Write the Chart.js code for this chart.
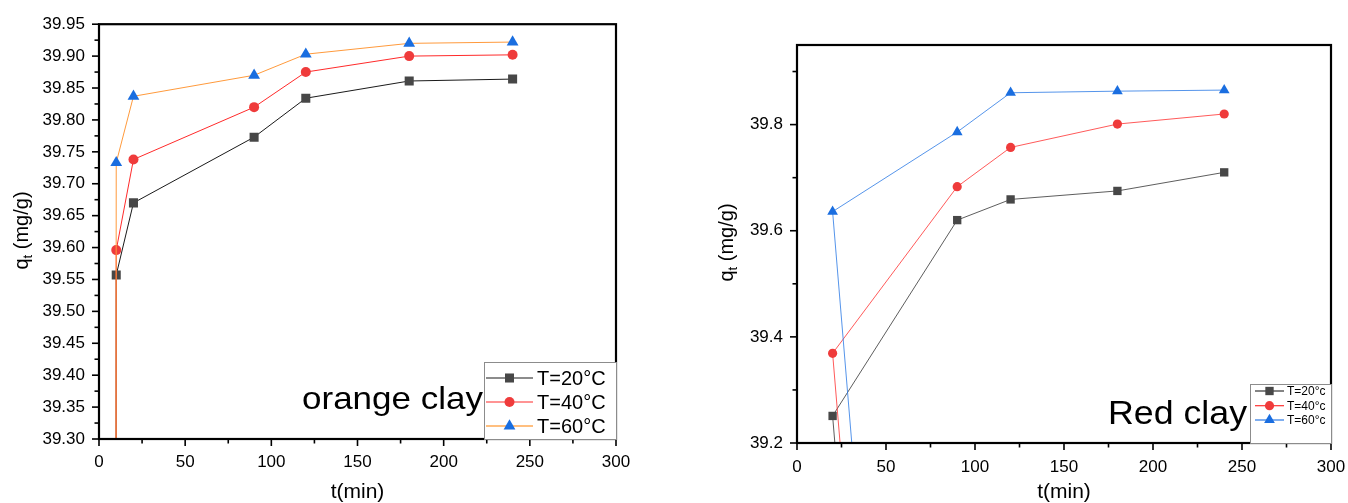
<!DOCTYPE html>
<html>
<head>
<meta charset="utf-8">
<script src="https://cdn.jsdelivr.net/npm/chart.js@4.4.1/dist/chart.umd.min.js"></script>
<style>
  body { margin: 0; background: #fff; width: 1348px; height: 503px; overflow: hidden; position: relative; }
  .panel { position: absolute; top: 0; }
  #orangePanel { left: 0; }
  #redPanel { left: 680px; }
</style>
</head>
<body>
<div class="panel" id="orangePanel"><canvas id="orangeChart" width="640" height="503"></canvas></div>
<div class="panel" id="redPanel"><canvas id="redChart" width="668" height="503"></canvas></div>
<script>
// Orange clay: contact time (min) vs q_t (mg/g)
const orangeTime = [0, 10, 20, 90, 120, 180, 240];
const orangeT20 = [0, 39.557, 39.670, 39.773, 39.834, 39.861, 39.864];
const orangeT40 = [0, 39.596, 39.738, 39.820, 39.875, 39.900, 39.902];
const orangeT60 = [0, 39.733, 39.837, 39.870, 39.903, 39.920, 39.922];

// Red clay: first row sits far outside the plotted window
const redTime = [1000, 20, 90, 120, 180, 240];
const redT20 = [0, 39.251, 39.620, 39.659, 39.675, 39.710];
const redT40 = [0, 39.369, 39.683, 39.757, 39.801, 39.820];
const redT60 = [0, 39.636, 39.786, 39.860, 39.863, 39.865];

const orangeLegend = ["T=20°C", "T=40°C", "T=60°C"];
const redLegend = ["T=20°c", "T=40°c", "T=60°c"];

// axis ticks (labelled ones; minor ticks fall halfway between)
const timeLabels = [0, 50, 100, 150, 200, 250, 300];
const orangeQLabels = [39.30, 39.35, 39.40, 39.45, 39.50, 39.55, 39.60, 39.65,
                       39.70, 39.75, 39.80, 39.85, 39.90, 39.95];
const redQLabels = [39.2, 39.4, 39.6, 39.8];
const redQMinor = [39.3, 39.5, 39.7, 39.9];

const FONT = "'Liberation Sans', Arial, Helvetica, sans-serif";

function withMidpoints(labels) {
  const out = [];
  labels.forEach((v, i) => {
    out.push(v);
    if (i < labels.length - 1) out.push((v + labels[i + 1]) / 2);
  });
  return out;
}

function isIn(list, v) {
  return list.some((l) => Math.abs(l - v) < 1e-6);
}

function points(times, values) {
  return times.map((t, i) => ({ x: t, y: values[i] }));
}

function markerPath(ctx, style, r, x, y) {
  ctx.beginPath();
  if (style === "rect") {
    const s = Math.SQRT1_2 * r;
    ctx.rect(x - s, y - s, 2 * s, 2 * s);
  } else if (style === "triangle") {
    for (let k = 0; k < 3; k++) {
      const a = (k * 2 * Math.PI) / 3;
      const px = x + Math.sin(a) * r;
      const py = y - Math.cos(a) * r;
      k === 0 ? ctx.moveTo(px, py) : ctx.lineTo(px, py);
    }
    ctx.closePath();
  } else {
    ctx.arc(x, y, r, 0, Math.PI * 2);
  }
}

// frame, tick marks, rotated y title, sample name and legend
const panelDecor = {
  id: "panelDecor",
  afterDatasetsDraw(chart, args, opts) {
    const { ctx, chartArea: a } = chart;
    const x = chart.scales.x;
    const y = chart.scales.y;
    ctx.save();

    ctx.strokeStyle = "#000";
    ctx.lineWidth = 1.6;
    x.ticks.forEach((t) => {
      const px = x.getPixelForValue(t.value);
      const len = isIn(timeLabels, t.value) ? 7 : 4.5;
      ctx.beginPath();
      ctx.moveTo(px, a.bottom);
      ctx.lineTo(px, a.bottom + len);
      ctx.stroke();
    });
    y.ticks.forEach((t) => {
      const py = y.getPixelForValue(t.value);
      const len = isIn(opts.yLabels, t.value) ? 7 : 4.5;
      ctx.beginPath();
      ctx.moveTo(a.left, py);
      ctx.lineTo(a.left - len, py);
      ctx.stroke();
    });

    ctx.lineWidth = 2.2;
    ctx.strokeRect(a.left, a.top, a.right - a.left, a.bottom - a.top);

    // q_t (mg/g)
    ctx.fillStyle = "#000";
    ctx.textBaseline = "alphabetic";
    ctx.textAlign = "left";
    const big = "20px " + FONT;
    const small = "13px " + FONT;
    ctx.font = big;
    const wq = ctx.measureText("q").width;
    const wRest = ctx.measureText(" (mg/g)").width;
    ctx.font = small;
    const wt = ctx.measureText("t").width;
    const total = wq + wt + wRest;
    ctx.translate(opts.yTitle[0], opts.yTitle[1]);
    ctx.rotate(-Math.PI / 2);
    let cx = -total / 2;
    ctx.font = big;
    ctx.fillText("q", cx, 0);
    cx += wq;
    ctx.font = small;
    ctx.fillText("t", cx, 4);
    cx += wt;
    ctx.font = big;
    ctx.fillText(" (mg/g)", cx, 0);
    ctx.setTransform(1, 0, 0, 1, 0, 0);

    // sample name, stretched a little to its printed width
    ctx.font = opts.nameFont;
    const nw = ctx.measureText(opts.name).width;
    ctx.translate(opts.namePos[0], opts.namePos[1]);
    ctx.scale(opts.nameWidth / nw, 1);
    ctx.fillText(opts.name, 0, 0);
    ctx.setTransform(1, 0, 0, 1, 0, 0);

    // legend box
    const lg = opts.legend;
    ctx.fillStyle = "#fff";
    ctx.fillRect(lg.box[0], lg.box[1], lg.box[2], lg.box[3]);
    ctx.strokeStyle = "#8c8c8c";
    ctx.lineWidth = 1;
    ctx.strokeRect(lg.box[0] + 0.5, lg.box[1] + 0.5, lg.box[2], lg.box[3]);
    ctx.font = lg.font;
    ctx.textBaseline = "middle";
    chart.data.datasets.forEach((ds, i) => {
      const ry = lg.rows[i];
      ctx.strokeStyle = ds.legendLine || ds.borderColor;
      ctx.lineWidth = 1.2;
      ctx.beginPath();
      ctx.moveTo(lg.line[0], ry);
      ctx.lineTo(lg.line[1], ry);
      ctx.stroke();
      ctx.fillStyle = ds.pointBackgroundColor;
      markerPath(ctx, ds.pointStyle, ds.pointRadius, (lg.line[0] + lg.line[1]) / 2, ry);
      ctx.fill();
      ctx.fillStyle = "#000";
      ctx.fillText(ds.label, lg.textX, ry + 1);
    });

    ctx.restore();
  },
};

function makeChart(id, cfg) {
  const datasets = cfg.series.map((s, i) => ({
    label: cfg.legend[i],
    data: points(cfg.time, s.values),
    order: cfg.series.length - i, // later temperatures sit on top
    showLine: true,
    borderColor: s.line,
    legendLine: s.legendLine,
    borderWidth: cfg.lineWidth,
    pointStyle: s.style,
    pointRadius: s.radius,
    pointBackgroundColor: s.fill,
    pointBorderWidth: 0,
    pointHoverRadius: s.radius,
  }));

  return new Chart(document.getElementById(id), {
    type: "scatter",
    data: { datasets },
    options: {
      responsive: false,
      animation: false,
      devicePixelRatio: 1,
      layout: { padding: cfg.padding },
      plugins: {
        legend: { display: false },
        tooltip: { enabled: false },
        panelDecor: cfg.decor,
      },
      scales: {
        x: {
          type: "linear",
          min: 0,
          max: 300,
          afterBuildTicks: (s) => {
            s.ticks = withMidpoints(timeLabels).map((v) => ({ value: v }));
          },
          afterFit: (s) => {
            s.height = cfg.xHeight;
            s.paddingLeft = 0;
            s.paddingRight = 15;
          },
          ticks: {
            autoSkip: false,
            maxRotation: 0,
            padding: cfg.xTickPad,
            color: "#000",
            font: { family: FONT, size: 17 },
            callback: (v) => (isIn(timeLabels, v) ? String(v) : ""),
          },
          grid: { display: false, drawTicks: false },
          border: { display: false },
          title: {
            display: true,
            text: "t(min)",
            color: "#000",
            padding: 0,
            font: { family: FONT, size: 21, lineHeight: 1 },
          },
        },
        y: {
          type: "linear",
          min: cfg.yMin,
          max: cfg.yMax,
          afterBuildTicks: (s) => {
            s.ticks = cfg.yTicks.map((v) => ({ value: v }));
          },
          afterFit: (s) => {
            s.width = cfg.yWidth;
          },
          ticks: {
            autoSkip: false,
            padding: 14,
            color: "#000",
            font: { family: FONT, size: 17 },
            callback: (v) => (isIn(cfg.decor.yLabels, v) ? v.toFixed(cfg.digits) : ""),
          },
          grid: { display: false, drawTicks: false },
          border: { display: false },
        },
      },
    },
    plugins: [panelDecor],
  });
}

makeChart("orangeChart", {
  time: orangeTime,
  legend: orangeLegend,
  lineWidth: 1,
  series: [
    { values: orangeT20, line: "#1a1a1a", style: "rect", radius: 6.4, fill: "#474747" },
    { values: orangeT40, line: "#ff2a2a", style: "circle", radius: 5, fill: "#ef3b3b" },
    { values: orangeT60, line: "#ff9a3c", legendLine: "#ff8000", style: "triangle", radius: 6.8, fill: "#1a6ee0" },
  ],
  padding: { left: 0, top: 23, right: 24, bottom: 0 },
  xHeight: 64,
  yWidth: 99,
  xTickPad: 13,
  yMin: 39.3,
  yMax: 39.95,
  yTicks: withMidpoints(orangeQLabels),
  digits: 2,
  decor: {
    yLabels: orangeQLabels,
    yTitle: [27.5, 230.5],
    name: "orange clay",
    nameFont: "32px " + FONT,
    nameWidth: 181,
    namePos: [302, 409],
    legend: {
      box: [484, 362, 132, 77],
      rows: [378, 402, 426],
      line: [486, 533],
      textX: 537,
      font: "20px " + FONT,
    },
  },
});

makeChart("redChart", {
  time: redTime,
  legend: redLegend,
  lineWidth: 0.8,
  series: [
    { values: redT20, line: "#333333", style: "rect", radius: 5.9, fill: "#474747" },
    { values: redT40, line: "#ff3030", style: "circle", radius: 4.6, fill: "#ef3b3b" },
    { values: redT60, line: "#2a78e4", style: "triangle", radius: 6.2, fill: "#1a6ee0" },
  ],
  padding: { left: 0, top: 45, right: 17, bottom: 0 },
  xHeight: 60,
  yWidth: 117,
  xTickPad: 14,
  yMin: 39.2,
  yMax: 39.95,
  yTicks: redQLabels.concat(redQMinor).sort((p, q) => p - q),
  digits: 1,
  decor: {
    yLabels: redQLabels,
    yTitle: [52.6, 242.5],
    name: "Red clay",
    nameFont: "33px " + FONT,
    nameWidth: 139,
    namePos: [428, 424],
    legend: {
      box: [570, 384, 81, 59],
      rows: [391, 405.7, 420],
      line: [575, 604],
      textX: 607,
      font: "12px " + FONT,
    },
  },
});
</script>
</body>
</html>
